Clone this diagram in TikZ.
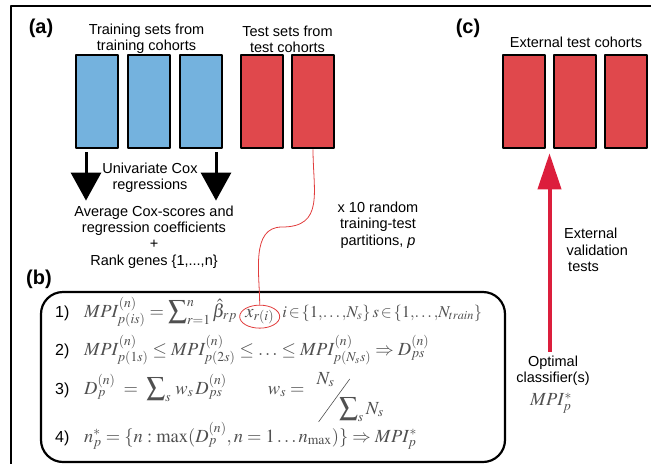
\documentclass[tikz,border=0pt]{standalone}
\usepackage{mathptmx}
\usepackage[no-math]{fontspec}
\setmainfont{Liberation Sans}
\usetikzlibrary{arrows.meta,shapes.geometric,calc}
\definecolor{cohortblue}{RGB}{116,178,222}
\definecolor{cohortred}{RGB}{224,72,76}
\definecolor{valred}{RGB}{220,30,60}
\definecolor{linkred}{RGB}{225,60,60}
\definecolor{eqgray}{RGB}{80,80,80}
\begin{document}
\begin{tikzpicture}[x=1pt,y=-1pt,line join=round,
	txt/.style={font=\fontsize{14.5}{16.3}\selectfont, align=center, inner sep=0pt},
	panel/.style={font=\fontsize{20}{24}\selectfont\bfseries, inner sep=0pt},
	cohort/.style={draw=black, line width=2.5pt, minimum width=42pt, minimum height=93pt, inner sep=0pt},
	eqn/.style={font=\fontsize{18.5}{22}\selectfont, text=eqgray, inner sep=0pt, anchor=base west},
	eqno/.style={font=\fontsize{16}{18}\selectfont, inner sep=0pt, anchor=base west}]
	\useasboundingbox (0,0) rectangle (651,464);
	\draw[line width=1.3pt] (651,6) -- (11,6) -- (11,464);
	% panel letters
	\node[panel] (pa) at (41,28) {(a)};
	\node[panel] (pb) at (39,279) {(b)};
	\node[panel] (pc) at (468,28) {(c)};
	% cohorts
	\foreach \x [count=\i] in {97,149,201} \node[cohort, fill=cohortblue] (tr\i) at (\x,101.5) {};
	\foreach \x [count=\i] in {262,313} \node[cohort, fill=cohortred] (ts\i) at (\x,101.5) {};
	\foreach \x [count=\i] in {524,575,626} \node[cohort, fill=cohortred] (ec\i) at (\x,101.5) {};
	\node[txt] (trtitle) at (146.5,39) {Training sets from\\training cohorts};
	\node[txt] (tstitle) at (287.5,39) {Test sets from\\test cohorts};
	\node[txt, anchor=base] (ectitle) at (576,47) {External test cohorts};
	% (a) Cox step
	\node[txt] (cox) at (150,178) {Univariate Cox\\regressions};
	\node[txt] (avg) at (154,237) {Average Cox-scores and\\regression coefficients\\+\\Rank genes \{1,...,n\}};
	\node[txt] (reps) at (378,225) {x 10 random\\training-test\\partitions, \textit{p}};
	\foreach \n/\dx in {1/-11,3/15}
		\draw[line width=3pt, -{Triangle[length=28pt,width=30pt]}, shorten <=3pt, shorten >=5pt]
			([xshift=\dx pt]tr\n.south) -- ([xshift=\dx pt]tr\n.south |- avg.north);
	% (b) steps
	\node[draw, line width=2.2pt, rounded corners=22pt, minimum width=464pt, minimum height=170pt] (steps) at (273,377) {};
	\node[eqno] (l1) at (55,317) {1)};
	\node[eqn] (e1a) at (84,317) {$MPI^{(n)}_{p(is)}=\displaystyle\sum\nolimits_{r=1}^{n}\hat{\beta}_{rp}$};
	\node[eqn] (xr) at ([xshift=8pt]e1a.base east) {$x_{r(i)}$};
	\node[eqn, font=\fontsize{16.5}{20}\selectfont] (e1b) at ([xshift=8pt]xr.base east)
		{$\thickmuskip=2mu i\in\{1,\!\ldots,\!N_s\}\,s\in\{1,\!\ldots,\!N_{train}\}$};
	\node[ellipse, draw=linkred, line width=.8pt, minimum width=40pt, minimum height=23pt, inner sep=0pt] (xring) at (xr) {};
	\node[eqno] (l2) at (55,355) {2)};
	\node[eqn] (e2) at (84,355) {$MPI^{(n)}_{p(1s)}\le MPI^{(n)}_{p(2s)}\le\ldots\le MPI^{(n)}_{p(N_s s)}\Rightarrow D^{(n)}_{ps}$};
	\node[eqno] (l3) at (55,394) {3)};
	\node[eqn] (e3) at (84,394) {$D^{(n)}_p\;=\;\displaystyle\sum\nolimits_s\, w_s\,D^{(n)}_{ps}\qquad\; w_s=\hspace{8pt}\raisebox{10pt}{$N_s$}\kern-16pt\raisebox{-28pt}{\rotatebox{54}{\rule{53pt}{.6pt}}}\kern-11pt\raisebox{-20pt}{$\displaystyle\sum\nolimits_s N_s$}$};
	\node[eqno] (l4) at (55,442) {4)};
	\node[eqn] (e4) at (84,442) {$n^{*}_p=\{n:\max(D^{(n)}_p,n=1\ldots n_{\max})\}\Rightarrow MPI^{*}_p$};
	% link from a test partition to the score term
	\coordinate (bend) at (282,227);
	\draw[linkred, line width=.8pt] (ts2.south) to[out=-90,in=0,looseness=1.3] (bend) to[out=180,in=90] (xring.north);
	% (c) external validation
	\node[txt] (val) at (564,250) [align=left, anchor=west] {External\\\,validation\\\;tests};
	\node[txt] (opt) at (553,371) {Optimal\\classifier(s)};
	\node[eqn, anchor=center] (mpi) at (551,403) {$MPI^{*}_p$};
	\coordinate (gap) at ($(ec1.south east)!.5!(ec2.south west)$);
	\draw[valred, line width=4pt, -{Triangle[length=36pt,width=23pt]}, shorten >=4pt] (opt.north -| gap) ++(0,-4) -- (gap);
\end{tikzpicture}
\end{document}
